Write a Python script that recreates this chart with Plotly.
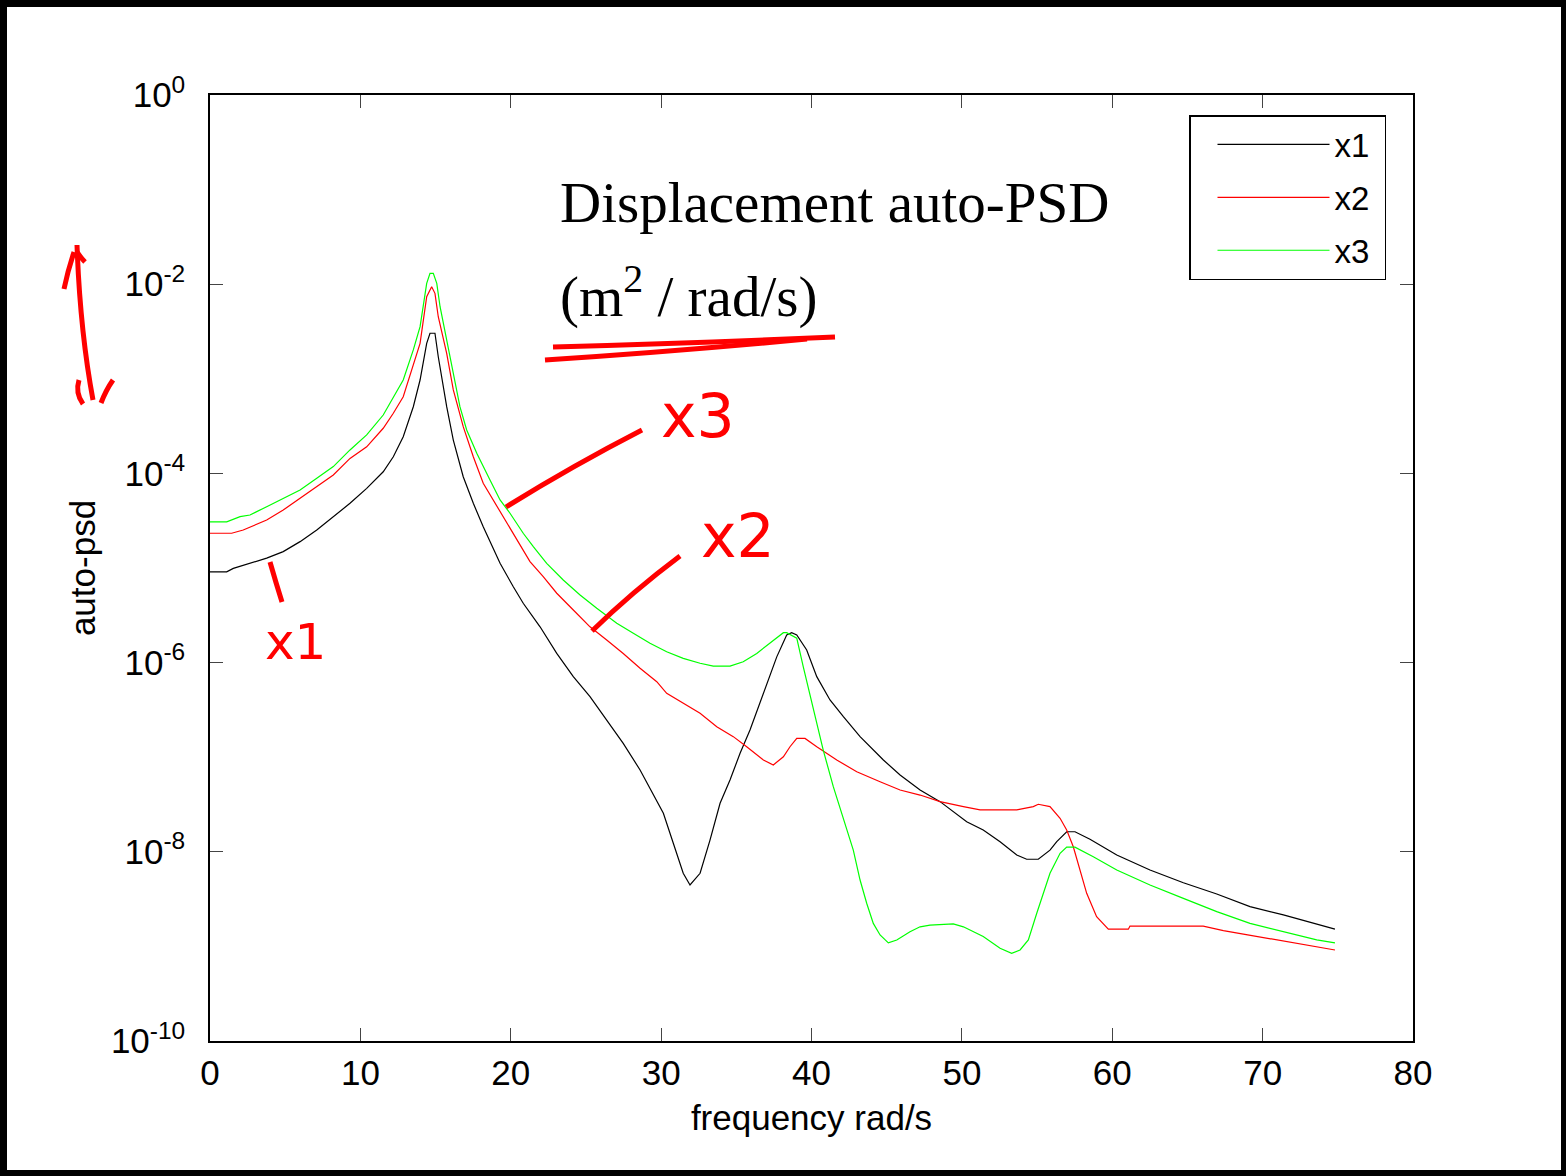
import plotly.graph_objects as go

# ---------------- data ----------------
freq_x1 = [0, 1.11, 1.55, 2.66, 3.77, 4.87, 5.99, 7.10, 8.20, 9.31, 10.42, 11.52, 12.19, 12.85,
           13.52, 13.97, 14.41, 14.63, 14.96, 15.18, 15.74, 16.18, 16.84, 17.51, 18.17, 19.29,
           20.17, 20.83, 21.95, 23.06, 24.16, 25.27, 26.38, 27.48, 28.60, 29.71, 30.15, 30.81,
           31.47, 31.92, 32.59, 33.25, 33.92, 34.58, 35.25, 35.91, 36.58, 37.24, 37.69, 38.35,
           38.68, 39.02, 39.68, 40.35, 41.23, 42.12, 43.23, 44.78, 45.89, 47.22, 48.55, 50.32,
           51.42, 52.54, 53.65, 54.31, 55.08, 55.86, 56.31, 56.97, 57.52, 58.52, 60.30, 62.51,
           64.73, 66.95, 69.16, 71.38, 73.60, 74.81]
psd_x1 = [9.1e-6, 9.1e-6, 9.9e-6, 1.12e-5, 1.27e-5, 1.49e-5, 1.90e-5, 2.52e-5, 3.49e-5, 4.83e-5,
          6.95e-5, 1.04e-4, 1.50e-4, 2.44e-4, 5.07e-4, 9.71e-4, 2.37e-3, 3.03e-3, 3.03e-3, 1.71e-3,
          5.07e-4, 2.25e-4, 9.23e-5, 4.83e-5, 2.73e-5, 1.12e-5, 6.34e-6, 4.24e-6, 2.39e-6, 1.25e-6,
          7.10e-7, 4.36e-7, 2.47e-7, 1.40e-7, 7.33e-8, 3.53e-8, 2.55e-8, 1.23e-8, 5.93e-9, 4.46e-9,
          5.93e-9, 1.33e-8, 3.26e-8, 5.74e-8, 1.10e-7, 1.94e-7, 3.72e-7, 7.10e-7, 1.15e-6, 1.96e-6,
          2.07e-6, 1.96e-6, 1.36e-6, 7.10e-7, 4.03e-7, 2.68e-7, 1.65e-7, 9.34e-8, 6.49e-8, 4.50e-8,
          3.39e-8, 2.08e-8, 1.70e-8, 1.28e-8, 9.25e-9, 8.34e-9, 8.34e-9, 1.04e-8, 1.28e-8, 1.63e-8,
          1.63e-8, 1.36e-8, 9.25e-9, 6.43e-9, 4.71e-9, 3.58e-9, 2.63e-9, 2.15e-9, 1.73e-9, 1.52e-9]

freq_x2 = [0, 1.44, 2.21, 3.77, 4.87, 5.99, 7.10, 8.20, 9.31, 10.42, 11.52, 12.19, 12.85, 13.52,
           13.97, 14.41, 14.74, 14.96, 15.18, 15.74, 16.18, 16.84, 17.51, 18.17, 19.29, 20.40,
           21.28, 22.16, 23.06, 24.16, 25.27, 26.38, 27.48, 28.60, 29.71, 30.37, 31.47, 32.59,
           33.70, 34.80, 35.69, 36.80, 37.46, 38.13, 38.57, 39.02, 39.57, 40.35, 41.68, 43.01,
           44.56, 45.89, 47.22, 48.55, 50.10, 51.21, 53.65, 54.75, 55.08, 55.86, 56.53, 56.97,
           57.41, 57.86, 58.30, 58.96, 59.74, 61.07, 61.18, 66.05, 67.39, 68.72, 70.94, 72.93, 74.81]
psd_x2 = [2.33e-5, 2.33e-5, 2.52e-5, 3.22e-5, 4.10e-5, 5.46e-5, 7.23e-5, 9.62e-5, 1.44e-4, 1.91e-4,
          3.00e-4, 4.32e-4, 6.47e-4, 1.46e-3, 2.37e-3, 7.38e-3, 9.41e-3, 8.01e-3, 4.53e-3, 1.86e-3,
          7.62e-4, 3.12e-4, 1.50e-4, 7.86e-5, 3.94e-5, 1.98e-5, 1.17e-5, 8.09e-6, 5.41e-6, 3.60e-6,
          2.39e-6, 1.73e-6, 1.25e-6, 8.70e-7, 6.28e-7, 4.73e-7, 3.72e-7, 2.91e-7, 2.10e-7, 1.65e-7,
          1.29e-7, 9.34e-8, 8.28e-8, 1.01e-7, 1.29e-7, 1.58e-7, 1.58e-7, 1.29e-7, 9.34e-8, 7.03e-8,
          5.51e-8, 4.50e-8, 3.98e-8, 3.39e-8, 3.00e-8, 2.77e-8, 2.77e-8, 3.00e-8, 3.18e-8, 3.00e-8,
          2.26e-8, 1.70e-8, 1.13e-8, 6.43e-9, 3.64e-9, 2.06e-9, 1.52e-9, 1.52e-9, 1.64e-9, 1.64e-9,
          1.47e-9, 1.35e-9, 1.17e-9, 1.03e-9, 9.16e-10]

freq_x3 = [0, 1.11, 2.00, 2.66, 3.77, 4.87, 5.99, 7.10, 8.20, 9.31, 10.42, 11.52, 12.19, 12.85,
           13.52, 13.97, 14.41, 14.63, 14.85, 15.08, 15.30, 15.74, 16.18, 16.62, 17.07, 17.74,
           18.62, 19.29, 19.95, 20.83, 21.50, 22.39, 23.49, 24.61, 25.72, 27.05, 28.15, 29.26,
           30.37, 31.47, 32.59, 33.47, 34.58, 35.46, 36.36, 37.24, 38.13, 38.35, 39.02, 39.45,
           40.12, 40.78, 41.45, 42.12, 42.78, 43.23, 43.67, 44.11, 44.56, 45.11, 45.67, 46.55,
           47.22, 47.88, 49.43, 50.10, 51.42, 52.54, 53.31, 53.87, 54.42, 54.98, 55.42, 55.86,
           56.53, 56.97, 57.52, 58.74, 60.30, 62.51, 64.73, 66.95, 69.16, 71.38, 73.60, 74.81]
psd_x3 = [3.08e-5, 3.08e-5, 3.49e-5, 3.63e-5, 4.45e-5, 5.46e-5, 6.68e-5, 8.88e-5, 1.18e-4, 1.77e-4,
          2.55e-4, 4.14e-4, 6.47e-4, 9.71e-4, 2.02e-3, 3.56e-3, 1.02e-2, 1.30e-2, 1.30e-2, 1.02e-2,
          5.78e-3, 2.57e-3, 1.05e-3, 5.07e-4, 2.88e-4, 1.63e-4, 8.51e-5, 5.24e-5, 3.79e-5, 2.33e-5,
          1.68e-5, 1.12e-5, 7.46e-6, 5.19e-6, 3.75e-6, 2.60e-6, 2.04e-6, 1.60e-6, 1.30e-6, 1.11e-6,
          9.84e-7, 9.20e-7, 9.20e-7, 1.02e-6, 1.25e-6, 1.60e-6, 2.07e-6, 2.07e-6, 1.81e-6, 9.05e-7,
          3.16e-7, 1.19e-7, 4.88e-8, 2.17e-8, 1.04e-8, 5.03e-9, 2.86e-9, 1.75e-9, 1.32e-9, 1.09e-9,
          1.17e-9, 1.43e-9, 1.61e-9, 1.68e-9, 1.73e-9, 1.61e-9, 1.27e-9, 9.55e-10, 8.45e-10, 9.16e-10,
          1.17e-9, 2.24e-9, 3.64e-9, 5.93e-9, 9.64e-9, 1.12e-8, 1.12e-8, 8.87e-9, 6.43e-9, 4.46e-9,
          3.22e-9, 2.33e-9, 1.75e-9, 1.43e-9, 1.17e-9, 1.09e-9]

series_names = ["x1", "x2", "x3"]
series_colors = ["#000000", "#ff0000", "#00ff00"]

x_ticks = [0, 10, 20, 30, 40, 50, 60, 70, 80]
y_tickvals = [1e0, 1e-2, 1e-4, 1e-6, 1e-8, 1e-10]
y_ticktext = ["10<sup>0</sup>", "10<sup>-2</sup>", "10<sup>-4</sup>", "10<sup>-6</sup>",
              "10<sup>-8</sup>", "10<sup>-10</sup>"]

# ---------------- figure ----------------
W, H = 1566, 1176
L, R, T, B = 210, 153, 95, 135
PW, PH = W - L - R, H - T - B


def px(X):
    return (X - L) / PW


def py(Y):
    return (H - B - Y) / PH


fig = go.Figure()
for fx, fy, name, col in zip([freq_x1, freq_x2, freq_x3], [psd_x1, psd_x2, psd_x3],
                             series_names, series_colors):
    fig.add_trace(go.Scatter(x=fx, y=fy, mode="lines", name=name + "&nbsp;", legendgroup=name,
                             line=dict(color=col, width=1.2)))

axis_common = dict(showline=True, linecolor="black", linewidth=1.5, mirror="allticks",
                   ticks="inside", ticklen=13, tickwidth=1, tickcolor="#444",
                   showgrid=False, zeroline=False, tickfont=dict(size=35))

fig.update_xaxes(range=[0, 80], tickvals=x_ticks, ticklabelstandoff=0,
                 title=dict(text="frequency rad/s", font=dict(size=35), standoff=15),
                 **axis_common)
fig.update_yaxes(type="log", range=[-10, 0], tickvals=y_tickvals, ticktext=y_ticktext,
                 ticklabelstandoff=16,
                 title=dict(text="auto-psd", font=dict(size=35), standoff=5),
                 **axis_common)

fig.update_layout(
    width=W, height=H,
    margin=dict(l=L, r=R, t=T, b=B, autoexpand=False),
    paper_bgcolor="white", plot_bgcolor="white",
    font=dict(family="Liberation Sans, Arial, Helvetica, sans-serif", size=34, color="black"),
    legend=dict(x=px(1386), y=py(115), xanchor="right", yanchor="top",
                bordercolor="black", borderwidth=1.5, bgcolor="white",
                font=dict(size=33), itemwidth=112, tracegroupgap=7, indentation=22),
)

serif = "Liberation Serif, Times New Roman, serif"
fig.add_annotation(x=px(558), y=py(203), xref="paper", yref="paper", xanchor="left",
                   yanchor="middle", showarrow=False, text="Displacement auto-PSD",
                   font=dict(family=serif, size=57, color="black"))
fig.add_annotation(x=px(558), y=py(292), xref="paper", yref="paper", xanchor="left",
                   yanchor="middle", showarrow=False, text="(m<sup>2</sup> / rad/s)",
                   font=dict(family=serif, size=57, color="black"))

# handwritten red notes
hand = "DejaVu Sans, sans-serif"
for txt, X, Y, sz in [("x3", 698, 416, 60), ("x2", 738, 536, 60), ("x1", 295, 642, 50)]:
    fig.add_annotation(x=px(X), y=py(Y), xref="paper", yref="paper", xanchor="center",
                       yanchor="middle", showarrow=False, text=txt,
                       font=dict(family=hand, size=sz, color="#ff0000"))


def path(points):
    pts = [(px(a), py(b)) for a, b in points]
    return "M{},{} Q{},{} {},{}".format(pts[0][0], pts[0][1], pts[1][0], pts[1][1],
                                        pts[2][0], pts[2][1])


strokes = [
    [(506, 507), (572, 466), (642, 430)],
    [(592, 631), (632, 592), (680, 556)],
    [(270, 562), (276, 583), (282, 602)],
    [(553, 347), (700, 343), (835, 337)],
    [(545, 360), (680, 351), (807, 339)],
    [(77, 245), (80, 330), (93, 400)],
    [(64, 289), (68, 270), (74, 252)],
    [(77, 252), (81, 258), (85, 262)],
    [(79, 380), (75, 393), (83, 404)],
    [(101, 403), (106, 390), (113, 380)],
]
for pts in strokes:
    fig.add_shape(type="path", xref="paper", yref="paper", path=path(pts),
                  line=dict(color="#ff0000", width=5), layer="above")

# black frame around the slide
for (x0, y0, x1, y1) in [(0, 0, 7, H), (0, 0, W, 7), (1561, 0, W, H), (0, 1170, W, H)]:
    fig.add_shape(type="rect", xref="paper", yref="paper", x0=px(x0), x1=px(x1),
                  y0=py(y0), y1=py(y1), fillcolor="black", line=dict(width=0), layer="above")

fig.write_html("out.html")
